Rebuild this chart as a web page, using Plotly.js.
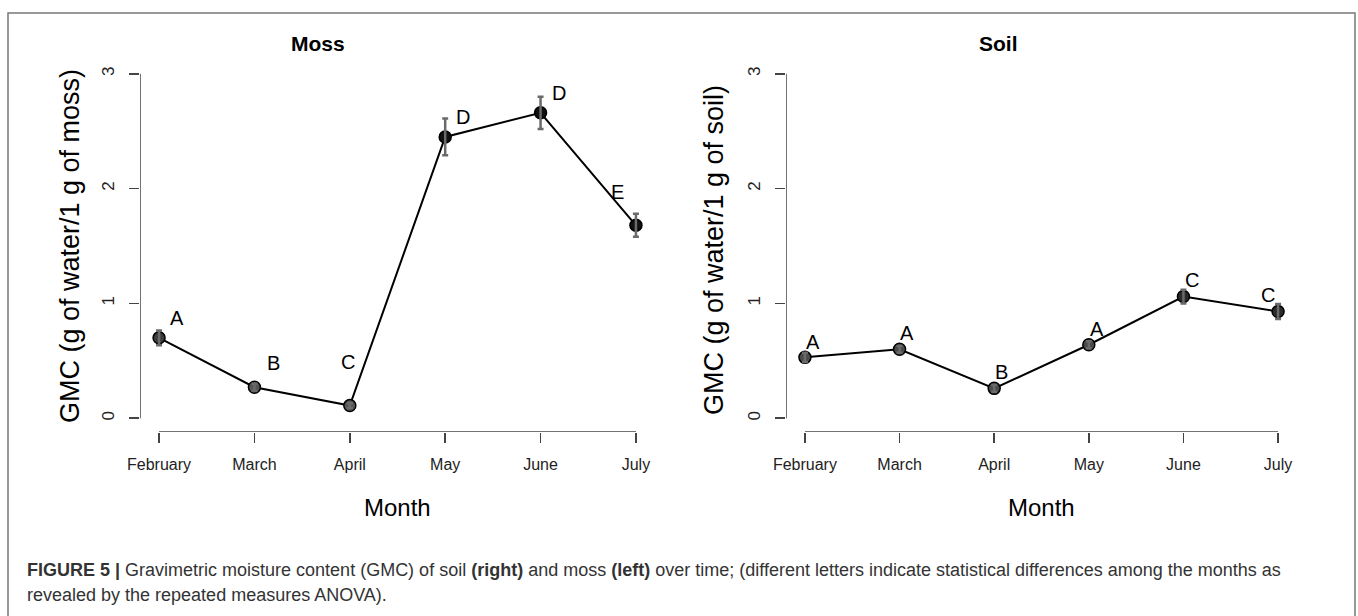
<!DOCTYPE html>
<html>
<head>
<meta charset="utf-8">
<script src="https://cdn.plot.ly/plotly-3.0.1.min.js"></script>
<style>html,body{margin:0;padding:0;background:#fff;}#chart{width:1358px;height:616px;}</style>
</head>
<body>
<div id="chart"></div>
<script>
// ---- data ----
var months = ["February", "March", "April", "May", "June", "July"];
var monthIndex = [1, 2, 3, 4, 5, 6];

var mossGMC = [0.70, 0.27, 0.11, 2.45, 2.66, 1.68];
var mossErr = [0.065, 0.03, 0.02, 0.16, 0.14, 0.10];
var mossLetters = ["A", "B", "C", "D", "D", "E"];
var mossLetterX = [1.19, 2.20, 2.98, 4.19, 5.19, 5.81];
var mossLetterY = [0.87, 0.48, 0.49, 2.62, 2.83, 1.97];

var soilGMC = [0.53, 0.60, 0.26, 0.64, 1.06, 0.93];
var soilErr = [0.04, 0.03, 0.03, 0.03, 0.06, 0.065];
var soilLetters = ["A", "A", "B", "A", "C", "C"];
var soilLetterX = [1.09, 2.08, 3.08, 4.09, 5.09, 5.89];
var soilLetterY = [0.66, 0.74, 0.40, 0.78, 1.20, 1.07];

var yTicks = [0, 1, 2, 3];

// ---- styling ----
var W = 1358, H = 616;
var FONT = "Liberation Sans, Arial, sans-serif";
var axisCol = "#444";
function px(x){ return x / W; }
function py(y){ return 1 - y / H; }

var mossColors = ['#3c3c3c', '#555555', '#555555', '#111111', '#111111', '#111111'];
var soilColors = ['#4a4a4a', '#4a4a4a', '#4a4a4a', '#4a4a4a', '#2a2a2a', '#2a2a2a'];

function lineTrace(xa, ya, yv, cols) {
  return {
    x: monthIndex, y: yv, xaxis: xa, yaxis: ya, type: 'scatter', mode: 'lines+markers',
    line: {color: '#000', width: 2},
    marker: {size: 12, color: cols, line: {color: '#000', width: 1.5}},
    hoverinfo: 'skip'
  };
}
function errTrace(xa, ya, yv, ev) {
  return {
    x: monthIndex, y: yv, xaxis: xa, yaxis: ya, type: 'scatter', mode: 'markers',
    marker: {size: 2, opacity: 0},
    error_y: {type: 'data', array: ev, visible: true, color: '#6a6a6a', thickness: 2.5, width: 3},
    hoverinfo: 'skip'
  };
}

var data = [
  lineTrace('x', 'y', mossGMC, mossColors),
  errTrace('x', 'y', mossGMC, mossErr),
  lineTrace('x2', 'y2', soilGMC, soilColors),
  errTrace('x2', 'y2', soilGMC, soilErr)
];

function xaxisDef(dom) {
  return {
    domain: dom, range: [0.8, 6.2], tickmode: 'array', tickvals: monthIndex, ticktext: months,
    ticks: 'outside', ticklen: 10, tickwidth: 1.5, tickcolor: axisCol,
    showline: false, showgrid: false, zeroline: false, fixedrange: true,
    tickfont: {family: FONT, size: 16, color: '#222'}, ticklabelstandoff: 8
  };
}
function yaxisDef(anchor) {
  return {
    domain: [py(432), py(60)], range: [-0.12, 3.12], anchor: anchor,
    tickmode: 'array', tickvals: yTicks, ticktext: yTicks.map(String), tickangle: -90,
    ticks: 'outside', ticklen: 10, tickwidth: 1.5, tickcolor: axisCol,
    showline: false, showgrid: false, zeroline: false, fixedrange: true,
    tickfont: {family: FONT, size: 17, color: '#222'}, ticklabelstandoff: 8
  };
}

var annotations = [];
function addLetters(xr, yr, xs, ys, ls) {
  for (var i = 0; i < ls.length; i++) {
    annotations.push({x: xs[i], y: ys[i], xref: xr, yref: yr, text: ls[i], showarrow: false,
      font: {family: FONT, size: 20, color: '#000'}, xanchor: 'center', yanchor: 'middle'});
  }
}
addLetters('x', 'y', mossLetterX, mossLetterY, mossLetters);
addLetters('x2', 'y2', soilLetterX, soilLetterY, soilLetters);

function pAnn(x, y, text, size, opts) {
  var a = {x: px(x), y: py(y), xref: 'paper', yref: 'paper', text: text, showarrow: false,
    font: {family: FONT, size: size, color: '#000'}, xanchor: 'center', yanchor: 'middle'};
  for (var k in (opts || {})) a[k] = opts[k];
  return a;
}
annotations.push(pAnn(318, 44, '<b>Moss</b>', 21));
annotations.push(pAnn(998, 44, '<b>Soil</b>', 21));
annotations.push(pAnn(397, 507, 'Month', 24));
annotations.push(pAnn(1041, 507, 'Month', 24));
annotations.push(pAnn(70, 246, 'GMC (g of water/1 g of moss)', 27, {textangle: -90}));
annotations.push(pAnn(714, 250, 'GMC (g of water/1 g of soil)', 27, {textangle: -90}));
annotations.push(pAnn(25, 570, '<b>FIGURE 5 |</b> Gravimetric moisture content (GMC) of soil <b>(right)</b> and moss <b>(left)</b> over time; (different letters indicate statistical differences among the months as', 18,
  {xanchor: 'left', font: {family: FONT, size: 18, color: '#333'}}));
annotations.push(pAnn(25, 595, 'revealed by the repeated measures ANOVA).', 18,
  {xanchor: 'left', font: {family: FONT, size: 18, color: '#333'}}));

var shapes = [
  // R-style axis lines spanning only the tick range
  {type: 'line', xref: 'x', yref: 'y', x0: 1, x1: 6, y0: -0.12, y1: -0.12, line: {color: axisCol, width: 1.5}},
  {type: 'line', xref: 'x', yref: 'y', x0: 0.8, x1: 0.8, y0: 0, y1: 3, line: {color: axisCol, width: 1.5}},
  {type: 'line', xref: 'x2', yref: 'y2', x0: 1, x1: 6, y0: -0.12, y1: -0.12, line: {color: axisCol, width: 1.5}},
  {type: 'line', xref: 'x2', yref: 'y2', x0: 0.8, x1: 0.8, y0: 0, y1: 3, line: {color: axisCol, width: 1.5}},
  // figure frame
  {type: 'rect', xref: 'paper', yref: 'paper', x0: px(8), x1: px(1355), y0: -0.05, y1: py(13),
   line: {color: '#777', width: 1.5}, fillcolor: 'rgba(0,0,0,0)'}
];

var layout = {
  width: W, height: H, margin: {l: 0, r: 0, t: 0, b: 0},
  paper_bgcolor: '#fff', plot_bgcolor: 'rgba(0,0,0,0)', showlegend: false,
  xaxis: Object.assign(xaxisDef([px(140), px(655)]), {anchor: 'y'}),
  yaxis: yaxisDef('x'),
  xaxis2: Object.assign(xaxisDef([px(786), px(1297)]), {anchor: 'y2'}),
  yaxis2: yaxisDef('x2'),
  annotations: annotations, shapes: shapes
};

Plotly.newPlot('chart', data, layout, {displayModeBar: false, staticPlot: true});
</script>
</body>
</html>
